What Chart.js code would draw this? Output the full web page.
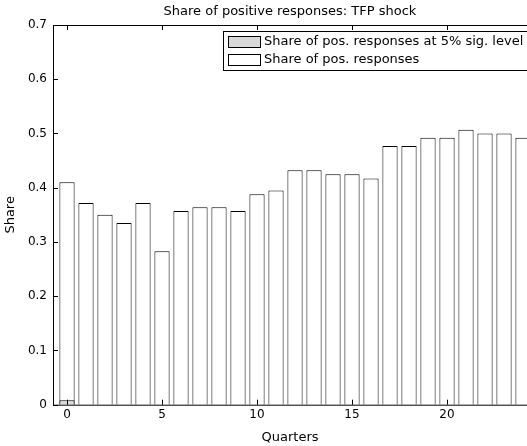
<!DOCTYPE html>
<html>
<head>
<meta charset="utf-8">
<script src="https://cdn.jsdelivr.net/npm/chart.js@4"></script>
<style>
  html, body { margin: 0; padding: 0; background: #fff; overflow: hidden; }
  #wrap { width: 527px; height: 446px; }
</style>
</head>
<body>
<div id="wrap"><canvas id="shareChart" width="527" height="446"></canvas></div>
<script>
// quarters after the shock
const quarters = [0, 1, 2, 3, 4, 5, 6, 7, 8, 9, 10, 11, 12, 13, 14, 15, 16, 17, 18, 19, 20, 21, 22, 23, 24];
// share of positive responses
const sharePos = [0.410, 0.372, 0.350, 0.335, 0.372, 0.283, 0.357, 0.364, 0.364, 0.357, 0.388, 0.395,
                  0.432, 0.432, 0.425, 0.425, 0.417, 0.477, 0.477, 0.492, 0.492, 0.507, 0.500, 0.500, 0.492];
// share of positive responses significant at 5%
const sharePosSig = [0.008, 0, 0, 0, 0, 0, 0, 0, 0, 0, 0, 0, 0, 0, 0, 0, 0, 0, 0, 0, 0, 0, 0, 0, 0];
const xTicks = [0, 5, 10, 15, 20];
const yTicks = [0, 0.1, 0.2, 0.3, 0.4, 0.5, 0.6, 0.7];
const legendLabels = ['Share of pos. responses at 5% sig. level', 'Share of pos. responses'];
const chartTitle = 'Share of positive responses: TFP shock';

const FONT = 'DejaVu Sans';

// matlab style box, inward ticks, title over the axes and legend
const matlabAxes = {
    id: 'matlabAxes',
    afterDatasetsDraw(chart) {
        const c = chart.ctx;
        const a = chart.chartArea;
        const xs = chart.scales.x, ys = chart.scales.y;
        c.save();
        c.strokeStyle = '#000';
        c.lineWidth = 1;
        c.beginPath();
        c.moveTo(a.left + 0.5, a.bottom + 0.5);
        c.lineTo(a.left + 0.5, a.top + 0.5);
        c.lineTo(a.right + 2, a.top + 0.5);
        c.moveTo(a.left, a.bottom + 0.5);
        c.lineTo(a.right + 2, a.bottom + 0.5);
        // x ticks (top and bottom)
        xTicks.forEach(v => {
            const px = Math.round(xs.getPixelForValue(v)) + 0.5;
            c.moveTo(px, a.top); c.lineTo(px, a.top + 5);
            c.moveTo(px, a.bottom); c.lineTo(px, a.bottom - 5);
        });
        // y ticks
        yTicks.forEach(v => {
            const py = Math.round(ys.getPixelForValue(v)) + 0.5;
            c.moveTo(a.left, py); c.lineTo(a.left + 5, py);
        });
        c.stroke();

        // title, centred on the axes like matlab
        c.fillStyle = '#000';
        c.font = '13px "' + FONT + '"';
        c.textAlign = 'center';
        c.textBaseline = 'middle';
        c.fillText(chartTitle, (a.left + a.right) / 2, 12);

        // legend
        const lx = 223, ly = 31;
        c.textAlign = 'left';
        c.fillStyle = '#fff';
        c.fillRect(lx, ly, 320, 39);
        c.strokeRect(lx + 0.5, ly + 0.5, 320, 39);
        const fills = ['#d9d9d9', '#ffffff'];
        legendLabels.forEach((t, i) => {
            const y = ly + 5 + i * 18;
            c.fillStyle = fills[i];
            c.fillRect(lx + 5, y, 32, 11);
            c.strokeStyle = '#000';
            c.strokeRect(lx + 5.5, y + 0.5, 32, 11);
            c.fillStyle = '#000';
            c.fillText(t, lx + 41, y + 6);
        });
        c.restore();
    }
};

new Chart(document.getElementById('shareChart'), {
    type: 'bar',
    data: {
        datasets: [{
            label: legendLabels[0],
            data: quarters.map((q, i) => ({ x: q, y: sharePosSig[i] })),
            backgroundColor: '#d9d9d9',
            borderColor: '#000',
            borderWidth: 1,
            grouped: false,
            order: 0
        }, {
            label: legendLabels[1],
            data: quarters.map((q, i) => ({ x: q, y: sharePos[i] })),
            backgroundColor: '#ffffff',
            borderColor: '#000',
            borderWidth: 1,
            grouped: false,
            order: 1
        }]
    },
    options: {
        responsive: false,
        animation: false,
        datasets: { bar: { barPercentage: 0.8, categoryPercentage: 1 } },
        layout: { padding: { top: 25 } },
        plugins: {
            legend: { display: false },
            tooltip: { enabled: false },
            title: { display: false }
        },
        scales: {
            x: {
                type: 'linear',
                offset: false,
                min: -0.737,
                max: 24.21,
                grid: { display: false, drawTicks: false, offset: false },
                border: { display: false },
                afterFit: s => { s.height = 41.3; },
                afterBuildTicks: s => { s.ticks = xTicks.map(v => ({ value: v })); },
                ticks: { color: '#000', padding: 3, maxRotation: 0, font: { family: FONT, size: 12 } },
                title: {
                    display: true, text: 'Quarters', color: '#000',
                    font: { family: FONT, size: 13 }, padding: { bottom: 1 }
                }
            },
            y: {
                min: 0,
                max: 0.7,
                grid: { display: false, drawTicks: false },
                border: { display: false },
                afterFit: s => { s.width = 53; },
                afterBuildTicks: s => { s.ticks = yTicks.map(v => ({ value: v })); },
                ticks: { color: '#000', padding: 6, font: { family: FONT, size: 12 }, callback: v => String(v) },
                title: {
                    display: true, text: 'Share', color: '#000',
                    font: { family: FONT, size: 13 }, padding: { top: 3 }
                }
            }
        }
    },
    plugins: [matlabAxes]
});
</script>
</body>
</html>
